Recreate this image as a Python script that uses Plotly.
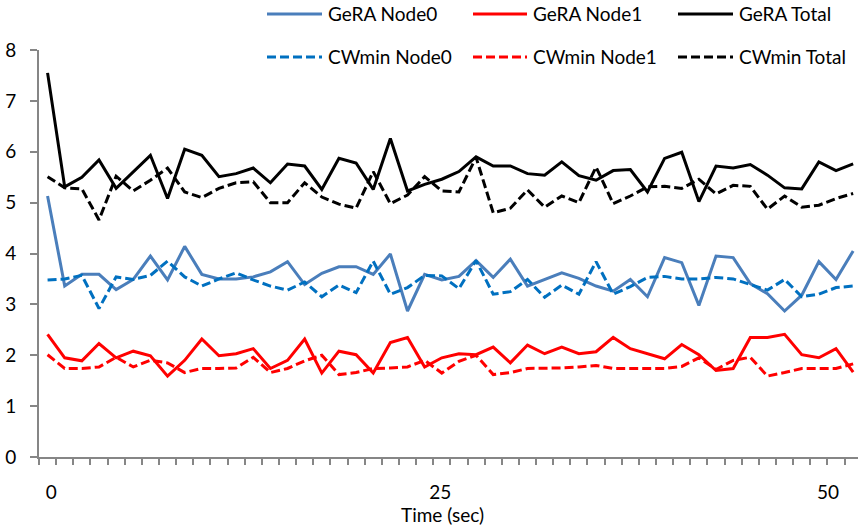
import plotly.graph_objects as go

# ---------------- data ----------------
categories = list(range(48))  # sample index along the time axis

gera_node0 = [5.13, 3.36, 3.59, 3.59, 3.29, 3.49, 3.95, 3.48, 4.14, 3.59,
              3.50, 3.50, 3.54, 3.64, 3.84, 3.39, 3.61, 3.74, 3.74, 3.59,
              3.99, 2.87, 3.59, 3.48, 3.55, 3.86, 3.53, 3.89, 3.36, 3.49,
              3.62, 3.51, 3.36, 3.26, 3.49, 3.15, 3.92, 3.82, 2.98, 3.95,
              3.92, 3.41, 3.21, 2.87, 3.18, 3.84, 3.49, 4.05]
gera_node1 = [2.41, 1.95, 1.89, 2.23, 1.95, 2.08, 1.99, 1.59, 1.90, 2.32,
              1.99, 2.03, 2.13, 1.74, 1.90, 2.32, 1.65, 2.08, 2.01, 1.65,
              2.25, 2.35, 1.77, 1.95, 2.03, 2.01, 2.16, 1.85, 2.20, 2.03,
              2.16, 2.03, 2.07, 2.35, 2.13, 2.03, 1.93, 2.21, 2.01, 1.70,
              1.74, 2.35, 2.35, 2.41, 2.01, 1.95, 2.13, 1.67]
gera_total = [7.55, 5.31, 5.50, 5.84, 5.28, 5.61, 5.93, 5.08, 6.05, 5.93,
              5.51, 5.57, 5.68, 5.39, 5.76, 5.72, 5.26, 5.87, 5.78, 5.26,
              6.26, 5.23, 5.36, 5.46, 5.61, 5.90, 5.72, 5.72, 5.57, 5.54,
              5.80, 5.53, 5.44, 5.63, 5.65, 5.21, 5.87, 5.99, 5.02, 5.72,
              5.68, 5.75, 5.54, 5.29, 5.27, 5.80, 5.63, 5.76]
cwmin_node0 = [3.48, 3.50, 3.57, 2.92, 3.54, 3.49, 3.57, 3.85, 3.54, 3.36,
               3.50, 3.62, 3.48, 3.36, 3.28, 3.44, 3.15, 3.38, 3.23, 3.85,
               3.20, 3.33, 3.57, 3.56, 3.31, 3.86, 3.20, 3.25, 3.49, 3.14,
               3.38, 3.20, 3.84, 3.20, 3.35, 3.53, 3.55, 3.50, 3.50, 3.53,
               3.50, 3.39, 3.28, 3.49, 3.15, 3.20, 3.33, 3.36]
cwmin_node1 = [2.01, 1.74, 1.74, 1.77, 1.96, 1.77, 1.90, 1.85, 1.66, 1.74,
               1.74, 1.75, 1.96, 1.66, 1.74, 1.89, 2.00, 1.62, 1.66, 1.74,
               1.75, 1.77, 1.90, 1.65, 1.88, 2.00, 1.62, 1.66, 1.74, 1.74,
               1.75, 1.77, 1.80, 1.74, 1.74, 1.74, 1.74, 1.78, 1.95, 1.72,
               1.90, 1.96, 1.59, 1.66, 1.74, 1.74, 1.74, 1.83]
cwmin_total = [5.51, 5.29, 5.27, 4.66, 5.52, 5.23, 5.44, 5.68, 5.21, 5.10,
               5.28, 5.39, 5.41, 5.00, 5.00, 5.39, 5.11, 4.97, 4.89, 5.61,
               4.98, 5.15, 5.51, 5.23, 5.21, 5.89, 4.80, 4.89, 5.25, 4.91,
               5.13, 5.00, 5.70, 4.98, 5.13, 5.31, 5.32, 5.28, 5.46, 5.17,
               5.34, 5.32, 4.87, 5.13, 4.91, 4.95, 5.08, 5.18]

x_tick_labels = ["0", "25", "50"]
x_tick_positions = [0.22, 22.91, 45.53]
y_tick_values = [0, 1, 2, 3, 4, 5, 6, 7, 8]

series = [
    ("GeRA Node0", gera_node0, "#4A7EBB", "solid"),
    ("GeRA Node1", gera_node1, "#FF0000", "solid"),
    ("GeRA Total", gera_total, "#000000", "solid"),
    ("CWmin Node0", cwmin_node0, "#0070C0", "9px,4px"),
    ("CWmin Node1", cwmin_node1, "#FF0000", "9px,4px"),
    ("CWmin Total", cwmin_total, "#000000", "9px,4px"),
]

FONT = "Lato"
FS = 19
W, H = 858, 528
ML, MT, MB, MR = 39, 50, 71, 0
PW, PH = W - ML - MR, H - MT - MB
AXIS_GRAY = "#868686"

fig = go.Figure()
for name, vals, color, dash in series:
    fig.add_trace(go.Scatter(
        x=categories, y=vals, mode="lines", name=name,
        line=dict(color=color, width=3, dash=dash),
        showlegend=False,
    ))

# ---------------- manual legend (3 columns x 2 rows) ----------------
def px_x(px):
    return (px - ML) / PW

def px_y(py):
    return (H - MB - py) / PH

legend_cols = [(267, 322, 326), (473, 527, 531), (678, 733, 737)]
legend_rows = [14, 57]
shapes = []
annotations = []
for k, (name, vals, color, dash) in enumerate(series):
    r, c = divmod(k, 3)
    x0, x1, xt = legend_cols[c]
    yy = legend_rows[r]
    shapes.append(dict(type="line", xref="paper", yref="paper",
                       x0=px_x(x0), x1=px_x(x1), y0=px_y(yy), y1=px_y(yy),
                       line=dict(color=color, width=3, dash=dash)))
    annotations.append(dict(text=name, xref="paper", yref="paper",
                            x=px_x(xt), y=px_y(yy), xanchor="left", yanchor="middle",
                            showarrow=False, font=dict(family=FONT, size=FS, color="#000")))

annotations.append(dict(text="Time (sec)", xref="paper", yref="paper",
                        x=px_x(442), y=px_y(514), xanchor="center", yanchor="middle",
                        showarrow=False, font=dict(family=FONT, size=FS, color="#000")))

fig.update_layout(
    width=W, height=H,
    margin=dict(l=ML, r=MR, t=MT, b=MB, pad=0),
    paper_bgcolor="white", plot_bgcolor="white",
    font=dict(family=FONT, size=FS, color="#000"),
    shapes=shapes, annotations=annotations,
    xaxis=dict(
        range=[-0.5, -0.5 + PW / 17.14],
        showgrid=False, zeroline=False,
        showline=True, linecolor=AXIS_GRAY, linewidth=2,
        tickmode="array", tickvals=x_tick_positions, ticktext=x_tick_labels,
        ticks="", ticklabelstandoff=17,
        minor=dict(tickmode="linear", tick0=-0.5, dtick=1, ticks="outside",
                   ticklen=6, tickwidth=1.5, tickcolor=AXIS_GRAY, showgrid=False),
        tickfont=dict(family=FONT, size=FS, color="#000"),
    ),
    yaxis=dict(
        range=[0, 8],
        showgrid=False, zeroline=False,
        showline=True, linecolor=AXIS_GRAY, linewidth=2,
        tickmode="array", tickvals=y_tick_values,
        ticks="outside", ticklen=7, tickwidth=1.5, tickcolor=AXIS_GRAY,
        ticklabelstandoff=10,
        tickfont=dict(family=FONT, size=FS, color="#000"),
    ),
)

fig.write_html("out.html")
